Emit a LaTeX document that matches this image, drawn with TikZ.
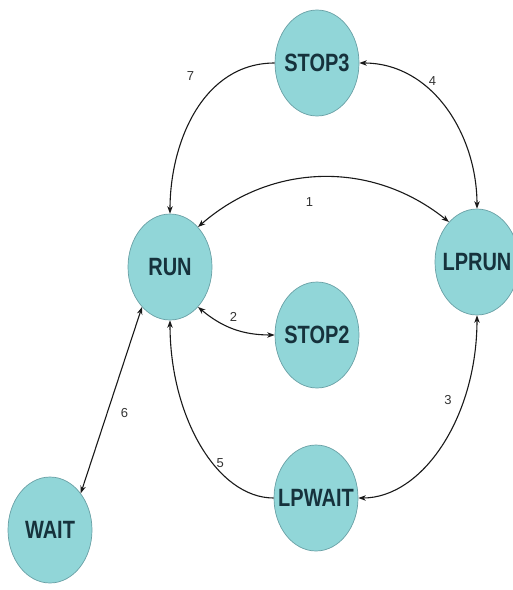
\documentclass[tikz,border=0pt]{standalone}
\usepackage{fontspec}
\setmainfont{Liberation Sans}
\newfontfamily\stfont{Liberation Sans}[FakeStretch=0.8]
\usepackage{tikz}
\usetikzlibrary{positioning,shapes.geometric,arrows.meta}
\definecolor{stfill}{RGB}{145,214,216}
\definecolor{stdraw}{RGB}{105,160,165}
\definecolor{sttext}{RGB}{22,50,60}

\begin{document}
\begin{tikzpicture}[
    x=1pt, y=1pt,
    >={Stealth[length=7.5pt,width=5.5pt]},
    every edge/.style={draw, line width=1.1pt, black!90},
    st/.style={ellipse, draw=stdraw, line width=0.7pt, fill=stfill, text=sttext,
        minimum width=84pt, minimum height=106pt, inner sep=-10pt,
        font=\stfont\bfseries\fontsize{25}{28}\selectfont},
    num/.style={font=\fontsize{13}{15}\selectfont, text=black!80}
]
    \useasboundingbox (0,0) rectangle (513,-590);
    % Place the 6 states at their spots:
    \node[st] (stop3)  at (317,-63)  {STOP3};
    \node[st] (run)    at (170,-267) {RUN};
    \node[st] (lprun)  at (477,-262) {LPRUN};
    \node[st] (stop2)  at (317,-335) {STOP2};
    \node[st] (lpwait) at (316,-498) {LPWAIT};
    \node[st] (wait)   at (50,-530)  {WAIT};

    \path
        (run.55) edge[<->, bend left=40] node[num, pos=.45, below=16pt] {1} (lprun.125)
        (run.-55) edge[<->, bend right=20] node[num, above=3pt] {2} (stop2.west)
        (lprun.south) edge[<->, out=-90, in=0, out looseness=1.2, in looseness=.75] node[num, pos=.3, left=8pt] {3} (lpwait.east)
        (stop3.east) edge[<->, out=0, in=90] node[num, pos=.3, right=8pt] {4} (lprun.north)
        (lpwait.west) edge[->, out=180, in=-90, out looseness=.7, in looseness=1.2] node[num, pos=.4, right=0pt] {5} (run.south)
        (run.-125) edge[<->] node[num, pos=.57, right=10pt] {6} (wait.50)
        (stop3.west) edge[->, out=180, in=90] node[num, pos=.25, left=30pt] {7} (run.north);
\end{tikzpicture}
\end{document}
